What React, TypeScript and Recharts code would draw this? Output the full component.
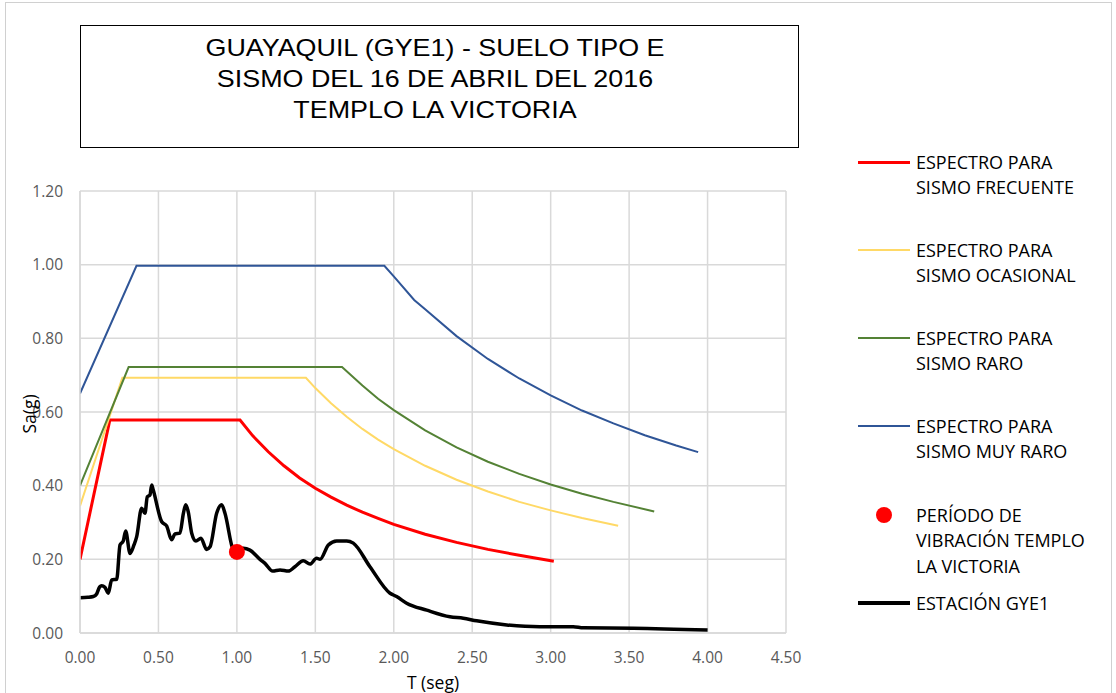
import React from 'react';
import { ComposedChart, Line, Scatter, XAxis, YAxis, CartesianGrid } from 'recharts';

// Espectro para sismo frecuente
const frecT = [0, 0.19, 1.02, 1.1, 1.2, 1.3, 1.4, 1.5, 1.6, 1.7, 1.8, 1.9, 2.0, 2.2, 2.4, 2.6, 2.8, 3.02];
const frecSa = [0.2, 0.578, 0.578, 0.536, 0.492, 0.454, 0.421, 0.393, 0.369, 0.347, 0.328, 0.311, 0.295, 0.268, 0.246, 0.227, 0.211, 0.195];

// Espectro para sismo ocasional
const ocasT = [0, 0.27, 1.44, 1.5, 1.6, 1.7, 1.8, 1.9, 2.0, 2.2, 2.4, 2.6, 2.8, 3.0, 3.2, 3.43];
const ocasSa = [0.345, 0.693, 0.693, 0.665, 0.624, 0.587, 0.554, 0.525, 0.499, 0.454, 0.416, 0.384, 0.356, 0.333, 0.312, 0.291];

// Espectro para sismo raro
const raroT = [0, 0.31, 1.67, 1.8, 1.9, 2.0, 2.2, 2.4, 2.6, 2.8, 3.0, 3.2, 3.4, 3.66];
const raroSa = [0.4, 0.722, 0.722, 0.672, 0.636, 0.605, 0.55, 0.504, 0.465, 0.432, 0.403, 0.378, 0.356, 0.33];

// Espectro para sismo muy raro
const muyRaroT = [0, 0.36, 1.94, 2.0, 2.13, 2.2, 2.4, 2.6, 2.8, 3.0, 3.2, 3.4, 3.6, 3.8, 3.94];
const muyRaroSa = [0.65, 0.997, 0.997, 0.968, 0.904, 0.879, 0.806, 0.744, 0.691, 0.645, 0.604, 0.569, 0.537, 0.509, 0.491];

// Estación GYE1
const gyeT = [0, 0.05, 0.085, 0.106, 0.125, 0.138, 0.159, 0.18, 0.202, 0.234, 0.255, 0.276, 0.291, 0.319, 0.344, 0.361,
  0.393, 0.414, 0.429, 0.446, 0.457, 0.467, 0.521, 0.552, 0.584, 0.605, 0.637, 0.659, 0.674, 0.69, 0.712, 0.739, 0.771,
  0.807, 0.829, 0.871, 0.903, 0.924, 0.977, 0.999, 1.041, 1.083, 1.147, 1.179, 1.228, 1.275, 1.328, 1.37, 1.423, 1.466,
  1.508, 1.53, 1.583, 1.636, 1.7, 1.742, 1.848, 1.976, 2.018, 2.082, 2.21, 2.358, 2.443, 2.528, 2.72, 2.93, 3.144, 3.208,
  3.527, 4.0];
const gyeSa = [0.096, 0.097, 0.099, 0.106, 0.125, 0.128, 0.124, 0.108, 0.144, 0.146, 0.239, 0.25, 0.277, 0.216, 0.239, 0.261,
  0.339, 0.325, 0.37, 0.375, 0.402, 0.388, 0.302, 0.291, 0.253, 0.269, 0.271, 0.325, 0.348, 0.329, 0.271, 0.25, 0.257,
  0.227, 0.234, 0.325, 0.348, 0.325, 0.225, 0.218, 0.23, 0.225, 0.2, 0.189, 0.168, 0.171, 0.168, 0.18, 0.196, 0.187,
  0.203, 0.2, 0.239, 0.25, 0.25, 0.244, 0.18, 0.108, 0.099, 0.081, 0.062, 0.044, 0.04, 0.033, 0.022, 0.017, 0.017, 0.014,
  0.013, 0.008];

// Período de vibración templo La Victoria
const periodoT = [1.0];
const periodoSa = [0.22];

const xTicks = [0, 0.5, 1.0, 1.5, 2.0, 2.5, 3.0, 3.5, 4.0, 4.5];
const yTicks = [0, 0.2, 0.4, 0.6, 0.8, 1.0, 1.2];

const titleLines = ['GUAYAQUIL (GYE1) - SUELO TIPO E', 'SISMO DEL 16 DE ABRIL DEL 2016', 'TEMPLO LA VICTORIA'];
const xLabel = 'T (seg)';
const yLabel = 'Sa(g)';

const legendItems = [
  { lines: ['ESPECTRO PARA', 'SISMO FRECUENTE'], color: '#FF0000', kind: 'line', w: 3, y: 162 },
  { lines: ['ESPECTRO PARA', 'SISMO OCASIONAL'], color: '#FFD966', kind: 'line', w: 2, y: 250 },
  { lines: ['ESPECTRO PARA', 'SISMO RARO'], color: '#548235', kind: 'line', w: 2, y: 338 },
  { lines: ['ESPECTRO PARA', 'SISMO MUY RARO'], color: '#2F5597', kind: 'line', w: 2, y: 426 },
  { lines: ['PERÍODO DE', 'VIBRACIÓN TEMPLO', 'LA VICTORIA'], color: '#FF0000', kind: 'dot', w: 0, y: 515 },
  { lines: ['ESTACIÓN GYE1'], color: '#000000', kind: 'line', w: 4, y: 603 },
];

const toPts = (t: number[], s: number[]) => t.map((T, i) => ({ T, Sa: s[i] }));

const frec = toPts(frecT, frecSa);
const ocas = toPts(ocasT, ocasSa);
const raro = toPts(raroT, raroSa);
const muyRaro = toPts(muyRaroT, muyRaroSa);
const gye = toPts(gyeT, gyeSa);
const periodo = toPts(periodoT, periodoSa);

const FONT = '"Open Sans", sans-serif';

export default function App() {
  return (
    <div style={{ position: 'absolute', left: 0, top: 0, width: 1116, height: 693, background: '#fff', overflow: 'hidden', fontFamily: FONT }}>
      <div style={{ position: 'absolute', left: 5, top: 2, width: 1107, height: 720, border: '1px solid #d0d0d0', boxSizing: 'border-box' }} />
      <div style={{ position: 'absolute', left: 0, top: 0 }}>
        <ComposedChart width={1116} height={693} margin={{ top: 191, right: 330, bottom: 30, left: 0 }}>
          <CartesianGrid stroke="#d9d9d9" strokeWidth={1.5} />
          <XAxis
            type="number"
            dataKey="T"
            domain={[0, 4.5]}
            ticks={xTicks}
            allowDataOverflow
            tickFormatter={(v: number) => v.toFixed(2)}
            tickLine={false}
            tickSize={0}
            tickMargin={19}
            height={30}
            axisLine={{ stroke: '#d9d9d9', strokeWidth: 1.5 }}
            tick={{ fill: '#595959', fontSize: 15.5, fontFamily: FONT }}
          />
          <YAxis
            type="number"
            dataKey="Sa"
            domain={[0, 1.2]}
            ticks={yTicks}
            allowDataOverflow
            tickFormatter={(v: number) => v.toFixed(2)}
            tickLine={false}
            tickSize={0}
            tickMargin={17}
            width={80}
            axisLine={{ stroke: '#d9d9d9', strokeWidth: 1.5 }}
            tick={{ fill: '#595959', fontSize: 15.5, fontFamily: FONT }}
          />
          <Line data={frec} dataKey="Sa" type="linear" stroke="#FF0000" strokeWidth={3} dot={false} activeDot={false} isAnimationActive={false} />
          <Line data={ocas} dataKey="Sa" type="linear" stroke="#FFD966" strokeWidth={2} dot={false} activeDot={false} isAnimationActive={false} />
          <Line data={raro} dataKey="Sa" type="linear" stroke="#548235" strokeWidth={2} dot={false} activeDot={false} isAnimationActive={false} />
          <Line data={muyRaro} dataKey="Sa" type="linear" stroke="#2F5597" strokeWidth={2} dot={false} activeDot={false} isAnimationActive={false} />
          <Scatter
            data={periodo}
            dataKey="Sa"
            fill="#FF0000"
            isAnimationActive={false}
            shape={(p: any) => <circle cx={p.cx} cy={p.cy} r={8} fill="#FF0000" />}
          />
          <Line data={gye} dataKey="Sa" type="monotone" stroke="#000000" strokeWidth={3.5} dot={false} activeDot={false} isAnimationActive={false} />
        </ComposedChart>
      </div>

      {/* Title box */}
      <div style={{ position: 'absolute', left: 80, top: 25, width: 719, height: 123, border: '1.5px solid #000', boxSizing: 'border-box' }} />
      {titleLines.map((t, i) => (
        <div key={t} style={{ position: 'absolute', left: 80, width: 710, top: 32 + i * 31, height: 31, lineHeight: '31px', textAlign: 'center', fontFamily: '"Liberation Sans", Arial, sans-serif', fontSize: 24, color: '#000', transform: 'scaleX(1.12)', transformOrigin: '355px 50%' }}>
          {t}
        </div>
      ))}

      {/* Axis titles */}
      <div style={{ position: 'absolute', left: 383, width: 100, top: 670, height: 24, lineHeight: '24px', textAlign: 'center', fontSize: 17.5, color: '#000' }}>{xLabel}</div>
      <div style={{ position: 'absolute', left: -21, top: 402, width: 100, height: 24, lineHeight: '24px', textAlign: 'center', fontSize: 17.5, color: '#000', transform: 'rotate(-90deg)' }}>{yLabel}</div>

      {/* Legend */}
      {legendItems.map((it) => (
        <React.Fragment key={it.lines.join(' ')}>
          {it.kind === 'line' ? (
            <div style={{ position: 'absolute', left: 858, top: it.y - it.w / 2, width: 52, height: it.w, background: it.color }} />
          ) : (
            <div style={{ position: 'absolute', left: 876, top: it.y - 8, width: 16, height: 16, borderRadius: 8, background: it.color }} />
          )}
          {it.lines.map((ln, j) => (
            <div key={ln} style={{ position: 'absolute', left: 916, top: it.y - 12.5 + j * 25.5, height: 25, lineHeight: '25px', fontSize: 18, color: '#000', whiteSpace: 'nowrap' }}>{ln}</div>
          ))}
        </React.Fragment>
      ))}
    </div>
  );
}
